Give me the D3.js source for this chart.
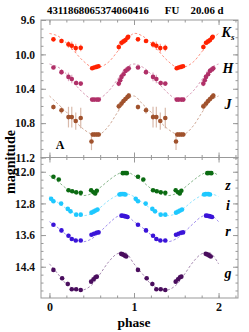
<!DOCTYPE html>
<html>
<head>
<meta charset="utf-8">
<script src="https://cdn.jsdelivr.net/npm/d3@7"></script>
<style>
body { margin: 0; background: #fff; }
svg { display: block; font-family: "Liberation Serif", "DejaVu Serif", serif; }
</style>
</head>
<body>
<script>
// light curve of 4311868065374060416, two cycles in phase

var title = ["4311868065374060416", "FU", "20.06 d"];

var fitPhase = [0, 0.1, 0.2, 0.3, 0.4, 0.5, 0.6, 0.7, 0.8, 0.9];

// near-IR bands (top panel)
var ksPhase = [0.047, 0.142, 0.225, 0.264, 0.311, 0.370, 0.505, 0.529, 0.556, 0.580, 0.820, 0.852, 0.876, 0.899, 0.923, 0.931];
var ksMag   = [9.825, 9.845, 9.884, 9.900, 9.927, 9.924, 10.161, 10.153, 10.146, 10.139, 9.915, 9.865, 9.849, 9.834, 9.807, 9.795];
var ksErr   = [0.02, 0.02, 0.04, 0.05, 0.05, 0.04, 0.02, 0.02, 0.02, 0.02, 0.04, 0.03, 0.03, 0.03, 0.02, 0.02];
var ksFit   = [9.757, 9.786, 9.868, 9.972, 10.077, 10.147, 10.147, 10.089, 9.972, 9.844];

var hPhase = [0.047, 0.142, 0.225, 0.264, 0.316, 0.370, 0.505, 0.529, 0.560, 0.583, 0.820, 0.837, 0.852, 0.876, 0.899, 0.923, 0.938];
var hMag   = [10.153, 10.207, 10.262, 10.286, 10.333, 10.340, 10.526, 10.526, 10.526, 10.526, 10.340, 10.301, 10.262, 10.231, 10.192, 10.176, 10.161];
var hErr   = [0.02, 0.03, 0.05, 0.05, 0.03, 0.02, 0.01, 0.01, 0.01, 0.01, 0.03, 0.02, 0.02, 0.02, 0.02, 0.02, 0.02];
var hFit   = [10.112, 10.147, 10.228, 10.345, 10.449, 10.519, 10.508, 10.426, 10.298, 10.159];

var jPhase = [0.047, 0.142, 0.225, 0.264, 0.311, 0.370, 0.497, 0.512, 0.535, 0.560, 0.583, 0.820, 0.852, 0.876, 0.899, 0.923, 0.938];
var jMag   = [10.613, 10.651, 10.730, 10.730, 10.776, 10.741, 11.014, 10.932, 10.932, 10.932, 10.932, 10.605, 10.573, 10.543, 10.519, 10.496, 10.480];
var jErr   = [0.03, 0.04, 0.12, 0.12, 0.10, 0.12, 0.10, 0.03, 0.03, 0.03, 0.03, 0.04, 0.04, 0.03, 0.03, 0.03, 0.03];
var jFit   = [10.484, 10.577, 10.671, 10.775, 10.868, 10.927, 10.927, 10.833, 10.682, 10.543];

// optical bands (bottom panel)
var zPhase = [0.047, 0.110, 0.225, 0.269, 0.316, 0.370, 0.493, 0.521, 0.541, 0.560, 0.867, 0.883, 0.899, 0.915];
var zMag   = [12.127, 12.195, 12.467, 12.492, 12.518, 12.533, 12.467, 12.518, 12.551, 12.482, 12.035, 12.030, 12.030, 12.035];
var zErr   = [0.02, 0.02, 0.02, 0.02, 0.02, 0.02, 0.05, 0.05, 0.05, 0.05, 0.02, 0.02, 0.02, 0.02];
var zFit   = [12.094, 12.246, 12.424, 12.551, 12.602, 12.551, 12.398, 12.221, 12.069, 11.992];

var iPhase = [0.020, 0.047, 0.138, 0.217, 0.249, 0.316, 0.370, 0.497, 0.521, 0.544, 0.568, 0.828, 0.846, 0.864, 0.882, 0.899];
var iMag   = [12.685, 12.746, 12.805, 12.939, 13.000, 13.084, 13.084, 13.033, 13.008, 12.982, 12.957, 12.576, 12.566, 12.563, 12.566, 12.576];
var iErr   = [0.02, 0.02, 0.04, 0.03, 0.03, 0.02, 0.02, 0.02, 0.02, 0.02, 0.02, 0.02, 0.02, 0.02, 0.02, 0.02];
var iFit   = [12.627, 12.779, 12.931, 13.058, 13.109, 13.058, 12.906, 12.728, 12.602, 12.551];

var rPhase = [0.047, 0.142, 0.225, 0.264, 0.311, 0.370, 0.497, 0.527, 0.556, 0.580, 0.852, 0.870, 0.888, 0.906, 0.923];
var rMag   = [13.338, 13.482, 13.617, 13.701, 13.736, 13.736, 13.591, 13.566, 13.541, 13.533, 13.109, 13.112, 13.122, 13.130, 13.142];
var rErr   = [0.02, 0.06, 0.05, 0.03, 0.02, 0.02, 0.02, 0.02, 0.02, 0.02, 0.02, 0.02, 0.02, 0.02, 0.02];
var rFit   = [13.261, 13.414, 13.591, 13.718, 13.769, 13.693, 13.515, 13.312, 13.134, 13.084];

var gPhase = [0.047, 0.150, 0.217, 0.264, 0.316, 0.370, 0.493, 0.521, 0.544, 0.560, 0.848, 0.862, 0.876, 0.892, 0.908];
var gMag   = [14.480, 14.690, 14.835, 14.970, 14.970, 14.987, 14.777, 14.716, 14.665, 14.650, 14.074, 14.085, 14.099, 14.120, 14.142];
var gErr   = [0.03, 0.05, 0.06, 0.03, 0.02, 0.02, 0.03, 0.02, 0.02, 0.02, 0.02, 0.02, 0.02, 0.02, 0.02];
var gFit   = [14.327, 14.581, 14.835, 14.962, 14.987, 14.860, 14.581, 14.277, 14.074, 14.049];

var topTicks = [9.6, 10.0, 10.4, 10.8, 11.2];
var botTicks = [12.0, 12.8, 13.6, 14.4];
var phaseTicks = [0, 1, 2];

var bands = [
	{ name: "K", sub: "s", panel: 0, color: "#ff2200", ph: ksPhase, mag: ksMag, err: ksErr, fit: ksFit, ly: 9.74 },
	{ name: "H", sub: "", panel: 0, color: "#b03068", ph: hPhase, mag: hMag, err: hErr, fit: hFit, ly: 10.16 },
	{ name: "J", sub: "", panel: 0, color: "#a0522d", ph: jPhase, mag: jMag, err: jErr, fit: jFit, ly: 10.58 },
	{ name: "z", sub: "", panel: 1, color: "#0b6b12", ph: zPhase, mag: zMag, err: zErr, fit: zFit, ly: 12.34 },
	{ name: "i", sub: "", panel: 1, color: "#1ec8ff", ph: iPhase, mag: iMag, err: iErr, fit: iFit, ly: 12.84 },
	{ name: "r", sub: "", panel: 1, color: "#3a14d8", ph: rPhase, mag: rMag, err: rErr, fit: rFit, ly: 13.49 },
	{ name: "g", sub: "", panel: 1, color: "#4a0e5e", ph: gPhase, mag: gMag, err: gErr, fit: gFit, ly: 14.55 }
];

var W = 249, H = 332;
var pLeft = 41, pRight = 238, pTop = 20, pMid = 157.5, pBot = 298;

var svg = d3.select("body").append("svg")
	.attr("width", W)
	.attr("height", H);

var x = d3.scaleLinear().domain([-0.1, 2.23]).range([pLeft, pRight]);
var ys = [
	d3.scaleLinear().domain([9.6, 11.2]).range([pTop, pMid]),
	d3.scaleLinear().domain([11.64, 15.19]).range([pMid, pBot])
];

// title
var titleX = [98, 172, 207];
svg.selectAll("text.title")
	.data(title)
	.enter().append("text")
		.attr("class", "title")
		.attr("x", function(d, i) { return titleX[i]; })
		.attr("y", 14)
		.attr("text-anchor", "middle")
		.attr("font-size", 10.8)
		.attr("font-weight", "bold")
	.text(function(d) { return d; });

function styleAxis(g) {
	g.select(".domain").remove();
	g.selectAll("line").attr("stroke", "#999");
	g.selectAll("text")
		.attr("font-size", 11.5)
		.attr("font-weight", "bold")
		.attr("fill", "#111")
		.attr("font-family", "Liberation Serif, serif");
}

var panels = [[pTop, pMid], [pMid, pBot]];
var majors = [topTicks, botTicks];
var minors = [d3.range(9.6, 11.21, 0.1), d3.range(11.8, 15.19, 0.2)];

panels.forEach(function(p, k) {
	var y = ys[k];
	svg.append("g")
		.attr("transform", "translate(" + pLeft + ",0)")
		.call(d3.axisLeft(y).tickValues(minors[k]).tickSize(-2.5).tickFormat(""))
		.call(styleAxis);
	svg.append("g")
		.attr("transform", "translate(" + pLeft + ",0)")
		.call(d3.axisLeft(y).tickValues(majors[k]).tickSize(-5).tickPadding(6).tickFormat(d3.format(".1f")))
		.call(styleAxis);
	svg.append("g")
		.attr("transform", "translate(" + pRight + ",0)")
		.call(d3.axisRight(y).tickValues(minors[k]).tickSize(-2.5).tickFormat(""))
		.call(styleAxis);
	svg.append("g")
		.attr("transform", "translate(" + pRight + ",0)")
		.call(d3.axisRight(y).tickValues(majors[k]).tickSize(-5).tickFormat(""))
		.call(styleAxis);
	[[p[0], d3.axisTop], [p[1], d3.axisBottom]].forEach(function(e) {
		svg.append("g")
			.attr("transform", "translate(0," + e[0] + ")")
			.call(e[1](x).tickValues(d3.range(0, 2.21, 0.2)).tickSize(-2.5).tickFormat(""))
			.call(styleAxis);
		svg.append("g")
			.attr("transform", "translate(0," + e[0] + ")")
			.call(e[1](x).tickValues(phaseTicks).tickSize(-5).tickFormat(""))
			.call(styleAxis);
	});
	svg.append("rect")
		.attr("x", pLeft)
		.attr("y", p[0])
		.attr("width", pRight - pLeft)
		.attr("height", p[1] - p[0])
		.attr("fill", "none")
		.attr("stroke", "#999");
});

// phase labels
svg.append("g")
	.attr("transform", "translate(0," + pBot + ")")
	.call(d3.axisBottom(x).tickValues(phaseTicks).tickSize(0).tickPadding(4).tickFormat(d3.format("d")))
	.call(styleAxis)
	.selectAll("text").attr("font-size", 12);

// bands
bands.forEach(function(b) {
	var y = ys[b.panel];
	var g = svg.append("g");
	var pts = [];
	[0, 1].forEach(function(c) {
		b.ph.forEach(function(p, i) {
			pts.push({ p: p + c, m: b.mag[i], e: b.err[i] });
		});
	});
	var fitPts = [];
	d3.range(0, 21).forEach(function(k) {
		fitPts.push({ p: Math.floor(k / 10) + fitPhase[k % 10], m: b.fit[k % 10] });
	});

	g.append("path")
		.datum(fitPts)
		.attr("fill", "none")
		.attr("stroke", b.color)
		.attr("stroke-opacity", 0.55)
		.attr("stroke-width", 0.9)
		.attr("stroke-dasharray", "2.5,2")
		.attr("d", d3.line()
			.curve(d3.curveCatmullRom)
			.x(function(d) { return x(d.p); })
			.y(function(d) { return y(d.m); }));

	g.selectAll("line.err")
		.data(pts)
		.enter().append("line")
			.attr("x1", function(d) { return x(d.p); })
			.attr("x2", function(d) { return x(d.p); })
			.attr("y1", function(d) { return y(d.m - d.e); })
			.attr("y2", function(d) { return y(d.m + d.e); })
			.attr("stroke", b.color)
			.attr("stroke-opacity", 0.4)
			.attr("stroke-width", 1.2);

	g.selectAll("circle")
		.data(pts)
		.enter().append("circle")
			.attr("cx", function(d) { return x(d.p); })
			.attr("cy", function(d) { return y(d.m); })
			.attr("r", 2.3)
			.attr("fill", b.color);

	var t = svg.append("text")
		.attr("x", 228)
		.attr("y", y(b.ly) + 5)
		.attr("text-anchor", "middle")
		.attr("font-size", 14)
		.attr("font-weight", "bold")
		.attr("font-style", "italic")
		.text(b.name);
	if (b.sub) {
		t.append("tspan")
			.attr("font-size", 9)
			.attr("dy", 3)
			.text(b.sub);
	}
});

svg.append("text")
	.attr("x", 60)
	.attr("y", 149)
	.attr("text-anchor", "middle")
	.attr("font-size", 12)
	.attr("font-weight", "bold")
	.text("A");

svg.append("text")
	.attr("x", 134)
	.attr("y", 327)
	.attr("text-anchor", "middle")
	.attr("font-size", 13.5)
	.attr("font-weight", "bold")
	.text("phase");

svg.append("text")
	.attr("transform", "translate(15,162) rotate(-90)")
	.attr("text-anchor", "middle")
	.attr("font-size", 14)
	.attr("font-weight", "bold")
	.text("magnitude");
</script>
</body>
</html>
